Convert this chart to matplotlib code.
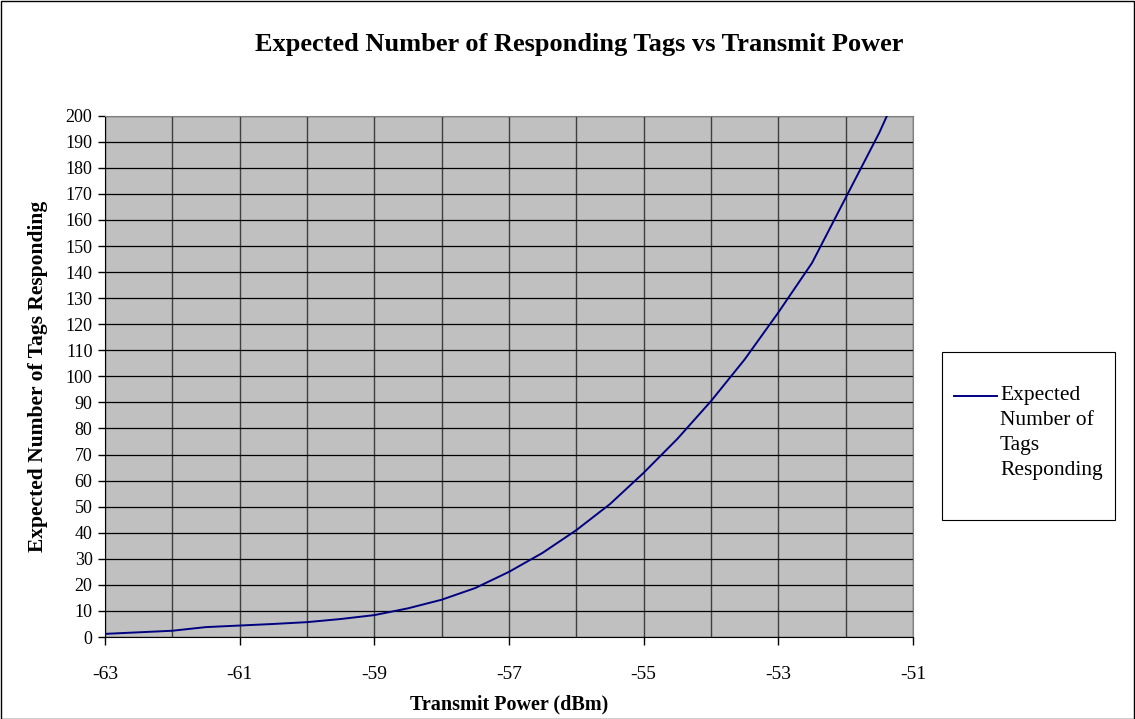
import matplotlib
matplotlib.use("Agg")
import matplotlib.pyplot as plt
from matplotlib.lines import Line2D
from matplotlib.patches import Rectangle
from matplotlib.ticker import MultipleLocator

# transmit power sweep (dBm) and expected responders
power_dbm = [-63, -62.5, -62, -61.5, -61, -60.5, -60, -59.5, -59, -58.5, -58,
             -57.5, -57, -56.5, -56, -55.5, -55, -54.5, -54, -53.5, -53,
             -52.5, -52, -51.5, -51]
tags_expected = [1.2, 1.8, 2.4, 3.8, 4.4, 5.0, 5.7, 6.9, 8.4, 11.0, 14.3,
                 18.8, 25.0, 32.3, 41.0, 51.0, 63.0, 76.0, 90.5, 106.5, 124.5,
                 143.5, 168.5, 193.5, 222.0]
x_ticks = [-63, -61, -59, -57, -55, -53, -51]
series_name = "Expected\nNumber of\nTags\nResponding"

plt.rcParams["font.family"] = ["Liberation Serif", "DejaVu Serif"]

W, H = 1135, 719
fig = plt.figure(figsize=(W / 100, H / 100), dpi=100)
ax = fig.add_axes([105 / W, 1 - 637 / H, (913 - 105) / W, (637 - 115.7) / H])

ax.set_facecolor("#c0c0c0")
ax.plot(power_dbm, tags_expected, color="#000080", lw=1.4, zorder=3)

ax.set_xlim(-63, -51)
ax.set_ylim(0, 200)
ax.set_xticks(x_ticks)
ax.set_xticklabels([str(v) for v in x_ticks])
ax.xaxis.set_minor_locator(MultipleLocator(1))
ax.yaxis.set_major_locator(MultipleLocator(10))
ax.grid(True, which="major", axis="y", color="black", lw=0.9)
ax.grid(True, which="both", axis="x", color="#404040", lw=1.0)
ax.set_axisbelow(True)

for s in ax.spines.values():
    s.set_color("#808080")
ax.spines["left"].set_color("black")
ax.spines["bottom"].set_color("black")

ax.tick_params(axis="y", direction="out", length=5, width=1, labelsize=13, pad=4)
ax.tick_params(axis="x", which="major", direction="out", length=6, width=1,
               labelsize=14, pad=15)
ax.tick_params(axis="x", which="minor", length=0)

ax.set_xlabel("Transmit Power (dBm)", fontsize=14.5, fontweight="bold")
ax.xaxis.set_label_coords(0.5, (637 - 694) / 521.3)
ax.set_ylabel("Expected Number of Tags Responding", fontsize=15.5,
              fontweight="bold")
ax.yaxis.set_label_coords((48 - 105) / 808, 0.5)
fig.text(579 / W, 1 - 45 / H,
         "Expected Number of Responding Tags vs Transmit Power",
         fontsize=19, fontweight="bold", ha="center", va="center")

# legend box on the right, drawn in figure pixels
def fx(px):
    return px / W


def fy(py):
    return 1 - py / H


fig.add_artist(Rectangle((fx(942), fy(520)), fx(1115) - fx(942), fy(352) - fy(520),
                         transform=fig.transFigure, facecolor="white",
                         edgecolor="black", lw=0.8))
fig.add_artist(Line2D([fx(954), fx(997)], [fy(396), fy(396)],
                      transform=fig.transFigure, color="#000080", lw=1.4))
fig.text(fx(1000), fy(386), series_name, fontsize=15.5, ha="left", va="top",
         linespacing=1.42)

fig.add_artist(Rectangle((0.5 / W, 0.5 / H), 1 - 1.5 / W, 1 - 1.5 / H,
                         transform=fig.transFigure, fill=False,
                         edgecolor="black", lw=1))

fig.savefig("out.png", dpi=100)
